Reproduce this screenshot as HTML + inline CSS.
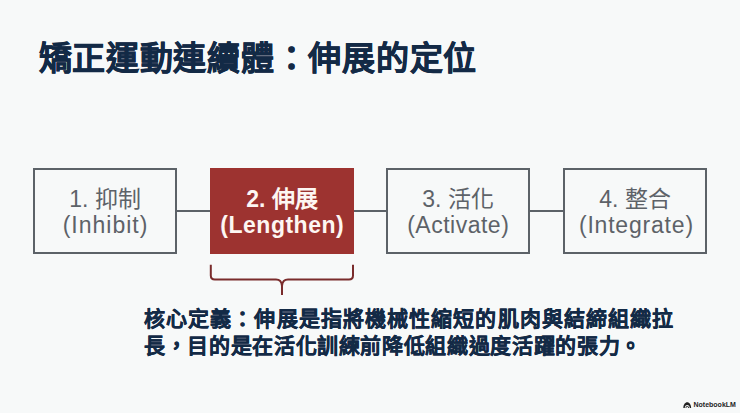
<!DOCTYPE html>
<html lang="zh-TW">
<head>
<meta charset="utf-8">
<style>
html,body{margin:0;padding:0;}
body{width:740px;height:413px;overflow:hidden;background:#f7f9f9;font-family:"Liberation Sans",sans-serif;position:relative;}
.title{position:absolute;left:38.5px;top:36px;font-size:33px;letter-spacing:0.73px;line-height:46px;font-weight:700;color:#132a46;white-space:nowrap;-webkit-text-stroke:0.45px #132a46;}
.box{position:absolute;top:168px;width:144px;height:86px;box-sizing:border-box;border:2px solid #5c6268;background:transparent;color:#5d6268;text-align:center;font-size:23px;line-height:27px;}
.box .l1,.box .l2{position:absolute;left:0;right:0;white-space:nowrap;}
.box .l1{top:16px;}
.box .l2{top:42px;}
.box.red{background:#9d3330;border-color:#9d3330;color:#fdf6f2;font-weight:700;}
.line{position:absolute;top:210px;height:2px;background:#5c6268;}
.body{position:absolute;left:144px;font-size:21px;line-height:27px;font-weight:700;color:#132a46;white-space:nowrap;-webkit-text-stroke:0.3px #132a46;}
.nb{position:absolute;left:693.5px;top:399px;font-size:7px;line-height:12px;font-weight:700;color:#1e1e1e;white-space:nowrap;}
</style>
</head>
<body>
<div class="title">矯正運動連續體：伸展的定位</div>

<div class="line" style="left:177px;width:33px"></div>
<div class="line" style="left:354px;width:33px"></div>
<div class="line" style="left:530px;width:33px"></div>

<div class="box" style="left:33px"><div class="l1">1. 抑制</div><div class="l2" style="letter-spacing:1px;text-indent:1px">(Inhibit)</div></div>
<div class="box red" style="left:210px"><div class="l1">2. 伸展</div><div class="l2" style="letter-spacing:0.5px;text-indent:0.5px">(Lengthen)</div></div>
<div class="box" style="left:386px"><div class="l1">3. 活化</div><div class="l2" style="letter-spacing:0.5px;text-indent:0.5px">(Activate)</div></div>
<div class="box" style="left:563px"><div class="l1">4. 整合</div><div class="l2" style="letter-spacing:0.8px;text-indent:0.8px;left:2px">(Integrate)</div></div>

<svg style="position:absolute;left:0;top:0" width="740" height="413">
<path d="M210.8 264.7 V275.6 Q210.8 279.6 214.8 279.6 H276 Q281.5 279.6 282 286 V295 M282 286 Q282.5 279.6 288 279.6 H349 Q353 279.6 353 275.6 V264.7" fill="none" stroke="#7a2c2c" stroke-width="2"/>
</svg>

<div class="body" style="top:305px;letter-spacing:1.1px">核心定義：伸展是指將機械性縮短的肌肉與結締組織拉</div>
<div class="body" style="top:332px;letter-spacing:0.65px">長，目的是在活化訓練前降低組織過度活躍的張力。</div>

<svg style="position:absolute;left:683px;top:401.5px" width="8.5" height="6.5" viewBox="0 0 9 7">
<path d="M0.3 6.6 C0.3 3 2.2 0.4 4.5 0.4 C6.8 0.4 8.7 3 8.7 6.6 L7.2 6.6 C7.2 4.6 6 3.2 4.5 3.2 C3 3.2 1.8 4.6 1.8 6.6 Z" fill="#222"/>
<path d="M2.6 6.6 C2.6 5.2 3.4 4.2 4.5 4.2 C5.6 4.2 6.4 5.2 6.4 6.6 L5.4 6.6 C5.4 5.6 5 5.1 4.5 5.1 C4 5.1 3.6 5.6 3.6 6.6 Z" fill="#222"/>
</svg>
<div class="nb">NotebookLM</div>
</body>
</html>
